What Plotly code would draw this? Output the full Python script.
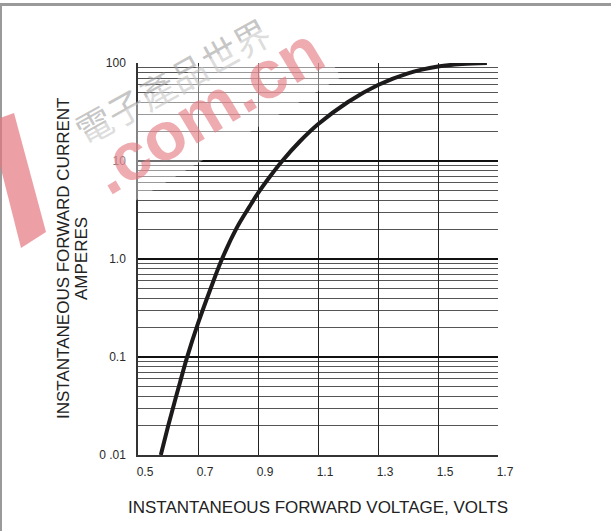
import plotly.graph_objects as go

# ---- data ----
voltage = [0.576, 0.60, 0.62, 0.64, 0.663, 0.70, 0.74, 0.78, 0.83, 0.87,
           0.90, 0.94, 0.98, 1.04, 1.10, 1.20, 1.30, 1.40, 1.50, 1.58, 1.663]
current = [0.01, 0.0195, 0.033, 0.055, 0.098, 0.22, 0.48, 1.0, 2.1, 3.36,
           4.7, 6.95, 9.95, 15.9, 23.7, 40, 59.6, 78.5, 92, 97.7, 100]

x_ticks = [0.5, 0.7, 0.9, 1.1, 1.3, 1.5, 1.7]
x_ticktext = ["0.5", "0.7", "0.9", "1.1", "1.3", "1.5", "1.7"]
y_ticks = [0.01, 0.1, 1, 10, 100]
y_ticktext = ["0 .01", "0.1", "1.0", "10", "100"]
y_minor = [m * d for d in [0.01, 0.1, 1, 10] for m in range(2, 10)]

x_title = "INSTANTANEOUS FORWARD VOLTAGE, VOLTS"
y_title_1 = "INSTANTANEOUS FORWARD CURRENT"
y_title_2 = "AMPERES"

# ---- layout geometry ----
W, H = 611, 531
L, R, T, B = 138, 113, 63, 76
PW, PH = W - L - R, H - T - B


def px(x):
    return (x - L) / PW


def py(y):
    return (H - B - y) / PH


fig = go.Figure()
fig.add_trace(go.Scatter(
    x=voltage, y=current, mode="lines",
    line=dict(color="#1c1a1a", width=4, shape="spline", smoothing=1.0),
    showlegend=False, hoverinfo="skip",
))

tick_font = dict(family="Liberation Sans, Arial, sans-serif", size=12, color="#2a2a2a")
title_font = dict(family="Liberation Sans, Arial, sans-serif", size=17, color="#222222")

fig.update_layout(
    width=W, height=H,
    margin=dict(l=L, r=R, t=T, b=B, pad=0),
    paper_bgcolor="white", plot_bgcolor="white",
    xaxis=dict(
        range=[0.5, 1.7], tickvals=x_ticks, ticktext=x_ticktext,
        showgrid=True, gridcolor="#222222", gridwidth=1,
        showline=True, linecolor="#333333", linewidth=1.5,
        zeroline=False, ticks="", tickfont=tick_font,
        ticklabelshift=7, ticklabelstandoff=5,
        title=dict(text=x_title, font=title_font, standoff=23),
        automargin=False, fixedrange=True,
    ),
    yaxis=dict(
        type="log", range=[-2, 2], tickvals=y_ticks, ticktext=y_ticktext,
        showgrid=True, gridcolor="#111111", gridwidth=2,
        minor=dict(tickvals=y_minor, showgrid=True, gridcolor="#555555",
                   gridwidth=1, ticks=""),
        showline=True, linecolor="#333333", linewidth=1.5,
        zeroline=False, ticks="", tickfont=tick_font,
        ticklabelstandoff=8,
        automargin=False, fixedrange=True,
    ),
    annotations=[
        dict(text=y_title_1, xref="paper", yref="paper", x=px(63), y=0.5,
             xanchor="center", yanchor="middle", textangle=-90,
             showarrow=False, font=title_font),
        dict(text=y_title_2, xref="paper", yref="paper", x=px(81), y=0.5,
             xanchor="center", yanchor="middle", textangle=-90,
             showarrow=False, font=title_font),
        # watermark
        dict(text="電子產品世界", xref="paper", yref="paper", x=px(172), y=py(80),
             xanchor="center", yanchor="middle", textangle=-29,
             showarrow=False,
             font=dict(family="Noto Sans CJK TC", size=36, color="rgba(160,160,160,0.6)")),
        dict(text="<b>.com.cn</b>", xref="paper", yref="paper", x=px(206), y=py(110),
             xanchor="center", yanchor="middle", textangle=-31,
             showarrow=False, bgcolor="rgba(255,255,255,0.4)", borderpad=3,
             font=dict(family="Liberation Sans, Arial, sans-serif", size=68,
                       color="rgba(228,120,128,0.62)")),
    ],
    shapes=[
        dict(type="line", xref="paper", yref="paper", x0=px(0), x1=px(W), y0=py(4.5), y1=py(4.5),
             line=dict(color="#9a9a9a", width=3), layer="above"),
        dict(type="line", xref="paper", yref="paper", x0=px(1), x1=px(1), y0=py(4.5), y1=py(H),
             line=dict(color="#9a9a9a", width=2), layer="above"),
        dict(type="path", xref="paper", yref="paper",
             path=f"M {px(0)},{py(118)} L {px(14)},{py(113)} L {px(46)},{py(232)} "
                  f"L {px(21)},{py(248)} L {px(0)},{py(165)} Z",
             fillcolor="rgba(228,120,128,0.7)", line=dict(width=0), layer="above"),
    ],
)

fig.write_html("out.html", config={"displayModeBar": False},
               post_script="document.body.style.margin='0';document.body.style.overflow='hidden';")
